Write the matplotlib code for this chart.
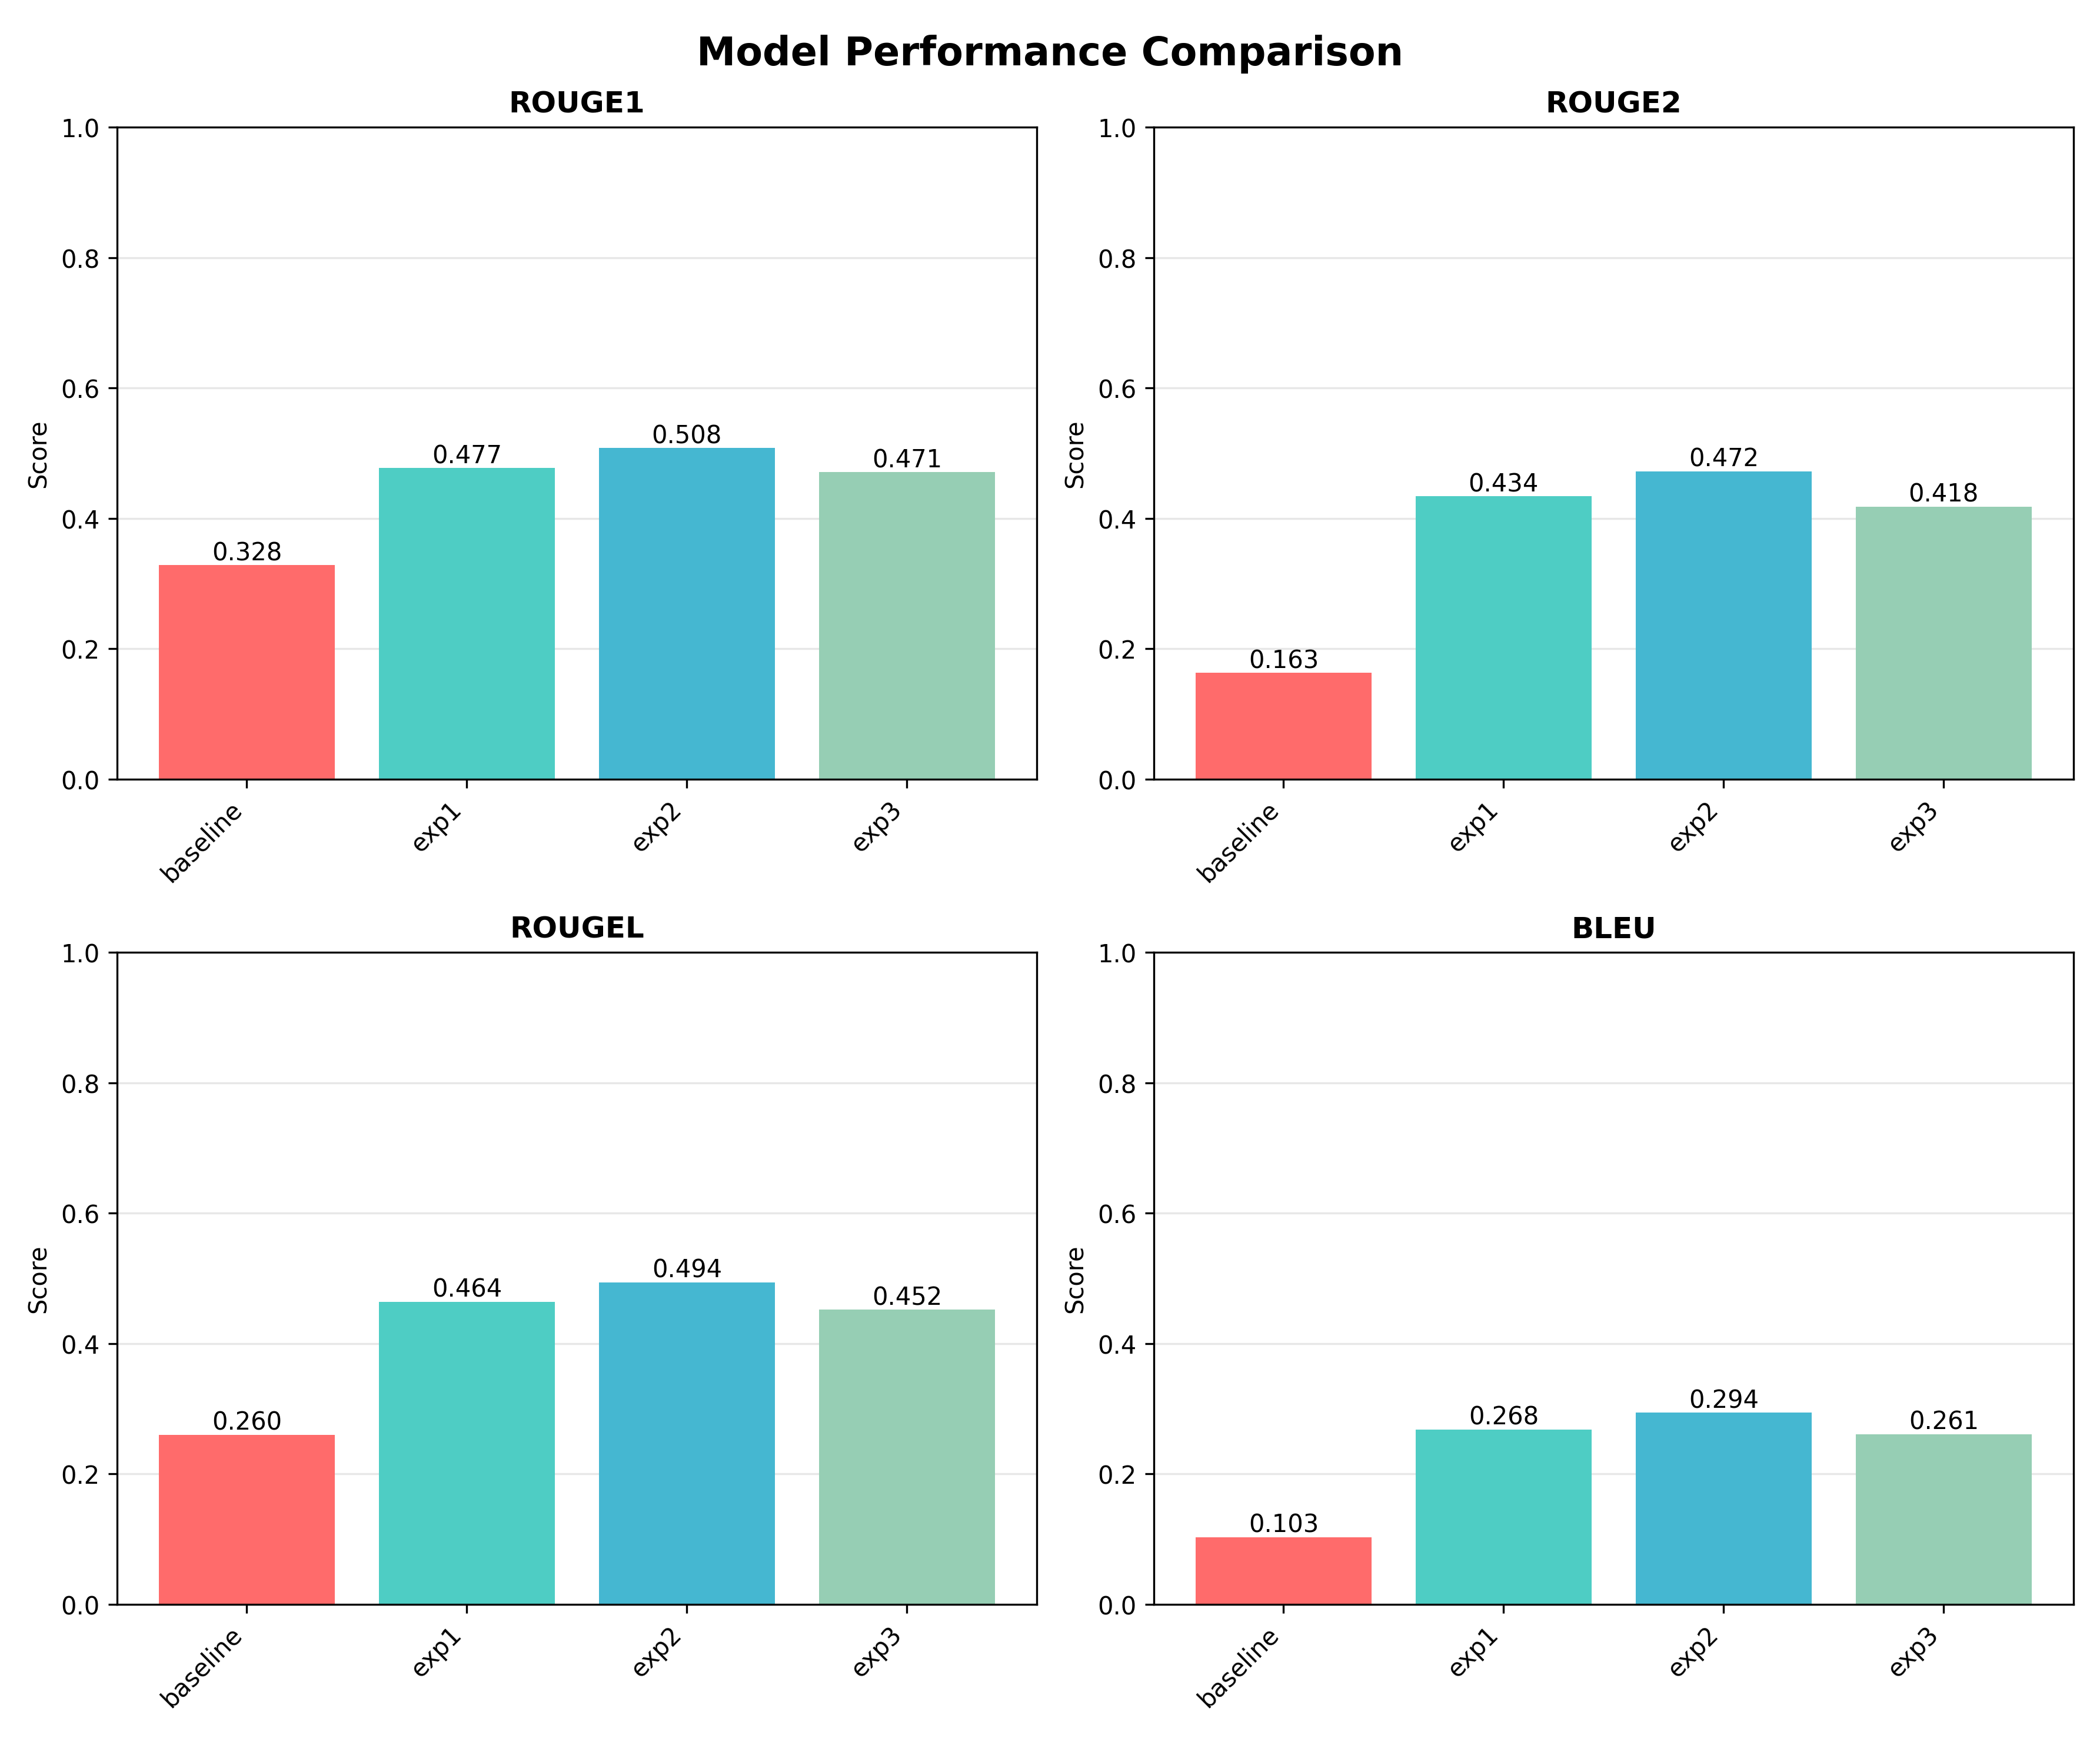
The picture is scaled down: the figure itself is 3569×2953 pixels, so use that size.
import matplotlib
matplotlib.use("Agg")
import matplotlib.pyplot as plt

models = ["baseline", "exp1", "exp2", "exp3"]
metrics = ["ROUGE1", "ROUGE2", "ROUGEL", "BLEU"]
rouge1 = [0.328, 0.477, 0.508, 0.471]
rouge2 = [0.163, 0.434, 0.472, 0.418]
rougel = [0.260, 0.464, 0.494, 0.452]
bleu = [0.103, 0.268, 0.294, 0.261]
colors = ["#FF6B6B", "#4ECDC4", "#45B7D1", "#96CEB4"]

scores = [rouge1, rouge2, rougel, bleu]

fig, axes = plt.subplots(2, 2, figsize=(3569 / 300, 2954 / 300))
fig.suptitle("Model Performance Comparison", fontsize=16, fontweight="bold")

for ax, name, vals in zip(axes.flat, metrics, scores):
    bars = ax.bar(models, vals, color=colors)
    ax.set_title(name, fontweight="bold", fontsize=12)
    ax.set_ylabel("Score")
    ax.set_ylim(0, 1)
    ax.grid(axis="y", alpha=0.3)
    ax.set_axisbelow(True)
    ax.tick_params(axis="x", labelrotation=45)
    for lbl in ax.get_xticklabels():
        lbl.set_ha("right")
    for b, v in zip(bars, vals):
        ax.text(b.get_x() + b.get_width() / 2, v, f"{v:.3f}",
                ha="center", va="bottom", fontsize=10)

plt.tight_layout()
plt.savefig("out.png", dpi=300)
